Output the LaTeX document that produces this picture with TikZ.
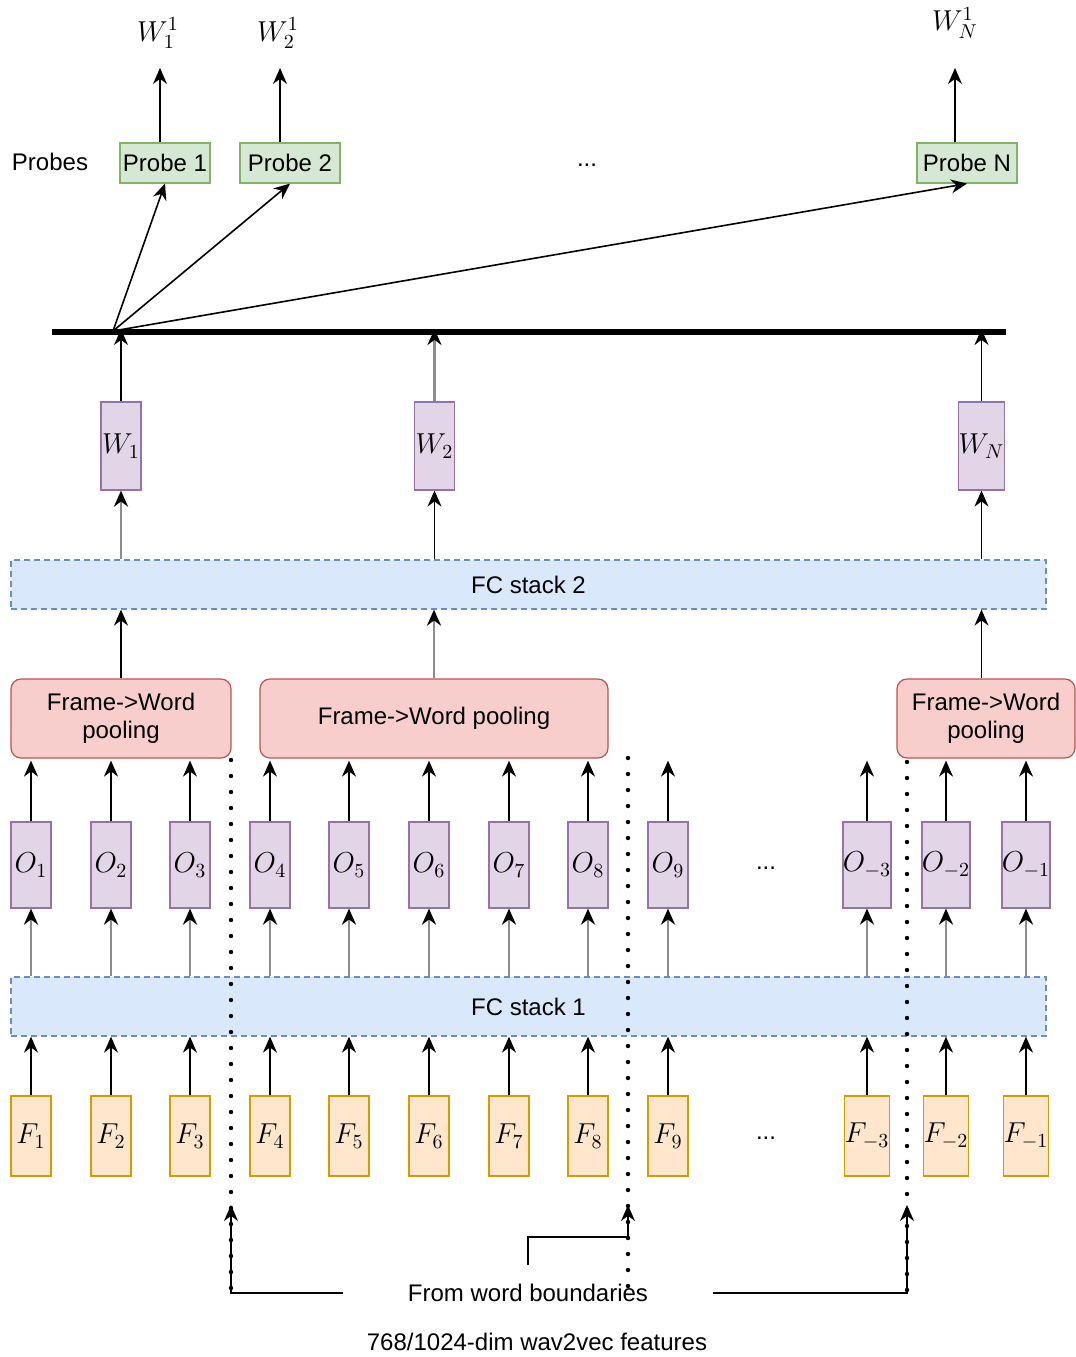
\documentclass[tikz,border=0pt]{standalone}
\usepackage{amsmath}
\usepackage{fontspec}
\setmainfont{Liberation Sans}
\usetikzlibrary{arrows.meta}

\definecolor{pfill}{HTML}{E1D5E7}\definecolor{pline}{HTML}{9673A6}
\definecolor{ofill}{HTML}{FFE6CC}\definecolor{oline}{HTML}{D79B00}
\definecolor{gfill}{HTML}{D5E8D4}\definecolor{gline}{HTML}{82B366}
\definecolor{rfill}{HTML}{F8CECC}\definecolor{rline}{HTML}{B85450}
\definecolor{bfill}{HTML}{DAE8FC}\definecolor{bline}{HTML}{6C8EBF}

\begin{document}
\begin{tikzpicture}[x=0.5pt,y=-0.5pt,font=\fontsize{12}{14}\selectfont,
    arj/.style={thick,-{Stealth[length=8pt,width=7pt,inset=2.6pt,black]}},
    arg/.style={arj,draw=black!45,line width=1.4pt},
    mlab/.style={font=\fontsize{14}{16}\selectfont,inner sep=1pt},
    vbox/.style={mlab,semithick,minimum width=20pt,inner sep=0pt},
    wbox/.style={vbox,draw=pline,fill=pfill,minimum height=44pt},
    obox/.style={vbox,draw=pline,fill=pfill,minimum height=43pt},
    fbox/.style={vbox,draw=oline,fill=ofill,minimum height=40pt},
    probe/.style={semithick,draw=gline,fill=gfill,minimum width=50pt,minimum height=20pt,inner sep=1pt},
    pool/.style={semithick,draw=rline,fill=rfill,rounded corners=5pt,minimum height=39.5pt,align=center},
    fc/.style={semithick,draw=bline,fill=bfill,dash pattern=on 3pt off 2pt,minimum width=517.5pt},
    sep/.style={line width=2.2pt,line cap=round,dash pattern=on 0pt off 8pt}]
\useasboundingbox (0,0) rectangle (1076,1357);

% probes
\node at (50,162) {Probes};
\node[probe,minimum width=45pt] (p1) at (165,163) {Probe 1};
\node[probe] (p2) at (290,163) {Probe 2};
\node[probe] (pN) at (967,163) {Probe N};
\node at (587,165) {...};
\node[mlab] (l1) at (158,33) {$W^1_1$};
\node[mlab] (l2) at (278,33) {$W^1_2$};
\node[mlab] (lN) at (955,23) {$W^1_N$};
\coordinate (t1) at (160,68);
\coordinate (t2) at (280,68);
\coordinate (tN) at (955,68);
\draw[arj] (t1 |- p1.north) -- (t1);
\draw[arj] (t2 |- p2.north) -- (t2);
\draw[arj] (tN |- pN.north) -- (tN);

% bar
\coordinate (barL) at (52,332);
\coordinate (barR) at (1006,332);
\coordinate (hub) at (113,331);
\draw[line width=3pt] (barL) -- (barR);
\draw[arj] (hub) -- (p1.south);
\draw[arj] (hub) -- (p2.south);
\draw[arj] (hub) -- (pN.south);

% word level
\node[fc,minimum height=24.5pt] (fc2) at (528.5,584.5) {FC stack 2};
\node[wbox] (w1) at (121,446) {$W_1$};
\node[wbox] (w2) at (434.5,446) {$W_2$};
\node[wbox] (wN) at (981.5,446) {$W_N$};
\draw[arj] (w1.north) -- ([yshift=1.5pt]w1.north |- barL);
\draw[arg] (w2.north) -- ([yshift=1.5pt]w2.north |- barL);
\draw[arj] (wN.north) -- ([yshift=1.5pt]wN.north |- barL);
\draw[arg] (w1.south |- fc2.north) -- (w1.south);
\draw[arj] (w2.south |- fc2.north) -- (w2.south);
\draw[arj] (wN.south |- fc2.north) -- (wN.south);

\node[pool,minimum width=110pt] (pool1) at (121,718.5) {Frame->Word\\pooling};
\node[pool,minimum width=174pt] (pool2) at (434,718.5) {Frame->Word pooling};
\node[pool,minimum width=89pt] (pool3) at (986,718.5) {Frame->Word\\pooling};
\draw[arj] (pool1.north) -- (pool1.north |- fc2.south);
\draw[arg] (pool2.north) -- (pool2.north |- fc2.south);
\draw[arj] (wN |- pool3.north) -- (wN |- fc2.south);

% frame level
\node[fc,minimum height=29.5pt] (fc1) at (528.5,1006.5) {FC stack 1};
\foreach \i/\x/\s/\p in {1/31/1/pool1,2/111/2/pool1,3/190/3/pool1,
    4/270/4/pool2,5/349/5/pool2,6/429/6/pool2,7/509/7/pool2,8/588/8/pool2,
    9/668/9/pool1,10/867/{-3}/pool1,11/946/{-2}/pool3,12/1026/{-1}/pool3}{
  \node[obox] (o\i) at (\x,865) {$O_{\s}$};
  \node[fbox] (f\i) at (\x,1136) {$F_{\s}$};
  \draw[arj] (o\i.north) -- ([yshift=-1pt]o\i.north |- \p.south);
  \draw[arg] (o\i.south |- fc1.north) -- (o\i.south);
  \draw[arj] (f\i.north) -- (f\i.north |- fc1.south);
}
\node at (766,868) {...};
\node at (766,1138) {...};

% word boundaries
\coordinate (sA) at (231,760);
\coordinate (sB) at (628,758);
\coordinate (sC) at (907,762);
\coordinate (sAend) at (231,1292);
\coordinate (sBend) at (628,1300);
\coordinate (sCend) at (907,1294);
\coordinate (tipA) at (231,1205);
\coordinate (tipB) at (628,1205);
\coordinate (tipC) at (907,1205);
\draw[sep] (sA) -- (sAend);
\draw[sep] (sB) -- (sBend);
\draw[sep] (sC) -- (sCend);

\node (bnd) at (528,1293) {From word boundaries};
\node (feat) at (537,1342) {768/1024-dim wav2vec features};
\draw[arj,shorten <=29pt] (bnd.west) -- (bnd.west -| tipA) -- (tipA);
\draw[arj,shorten <=29pt] (bnd.east) -- (bnd.east -| tipC) -- (tipC);
\draw[arj,shorten <=6pt] (bnd.north) -- ++(0,-40) -| (tipB);
\end{tikzpicture}
\end{document}
